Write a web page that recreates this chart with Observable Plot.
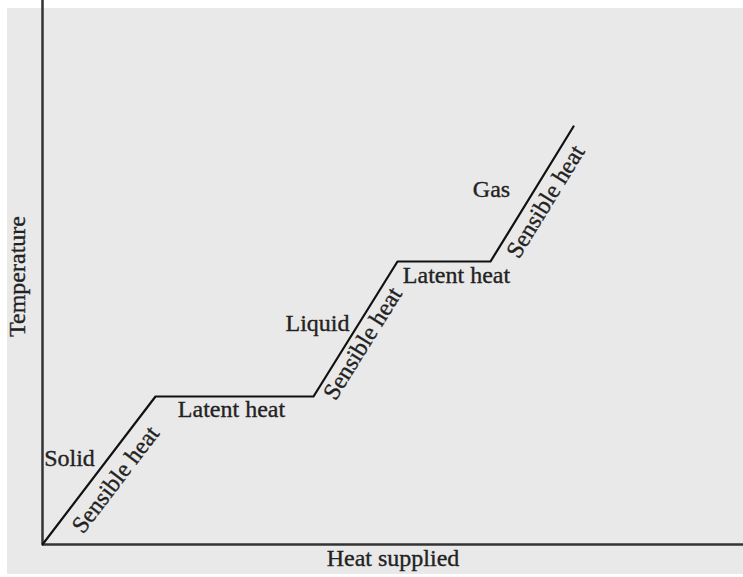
<!DOCTYPE html>
<html>
<head>
<meta charset="utf-8">
<script src="https://cdn.jsdelivr.net/npm/d3@7"></script>
<script src="https://cdn.jsdelivr.net/npm/@observablehq/plot@0.6"></script>
<style>
  body { margin: 0; background: #ffffff; }
  #bg { position: absolute; left: 7px; top: 8px; width: 736px; height: 566px; background: #e9e9e9; }
  #chart { position: absolute; left: 0; top: 0; }
</style>
</head>
<body>
<div id="bg"></div>
<div id="chart"></div>
<script>
// Heating curve (arbitrary units: heat supplied vs temperature)
const heat = [0, 113, 271, 355, 448, 531];
const temperature = [0, 148, 148, 283, 283, 418];

// Phase / region labels
const flatLabels = ["Solid", "Latent heat", "Liquid", "Latent heat", "Gas"];
const flatX = [27, 189, 275, 414, 449];
const flatY = [86, 135, 221, 269, 355];

const slopeLabels = ["Sensible heat", "Sensible heat", "Sensible heat"];
const slopeX = [73, 320, 503];
const slopeY = [65, 201, 343];
const slopeAngle = [-52.6, -58.1, -58.4];

const xTitle = "Heat supplied";
const yTitle = "Temperature";

const curve = heat.map((h, i) => ({heat: h, temp: temperature[i]}));
const flat = flatLabels.map((t, i) => ({text: t, x: flatX[i], y: flatY[i]}));
const slope = slopeLabels.map((t, i) => ({text: t, x: slopeX[i], y: slopeY[i], a: slopeAngle[i]}));

const txt = {fill: "#222", stroke: "#222", strokeWidth: 0.35, fontSize: 24};

const chart = Plot.plot({
  width: 743,
  height: 577,
  marginLeft: 42,
  marginRight: 0,
  marginTop: 0,
  marginBottom: 33,
  style: {background: "transparent", fontFamily: "'Liberation Serif', serif", fontSize: "24px", color: "#222"},
  x: {domain: [0, 701], axis: null},
  y: {domain: [0, 544], axis: null},
  marks: [
    Plot.ruleX([0], {stroke: "#333", strokeWidth: 2.5}),
    Plot.ruleY([0], {stroke: "#333", strokeWidth: 2.5}),
    Plot.line(curve, {x: "heat", y: "temp", stroke: "#111", strokeWidth: 2.2}),
    Plot.text(flat, {x: "x", y: "y", text: "text", ...txt}),
    Plot.text(slope, {x: "x", y: "y", text: "text", rotate: "a", ...txt}),
    Plot.text([xTitle], {frameAnchor: "bottom", textAnchor: "middle", dy: 21, ...txt}),
    Plot.text([yTitle], {frameAnchor: "left", textAnchor: "middle", rotate: -90, dx: -25, dy: 4, ...txt})
  ]
});
document.getElementById("chart").appendChild(chart);
</script>
</body>
</html>
